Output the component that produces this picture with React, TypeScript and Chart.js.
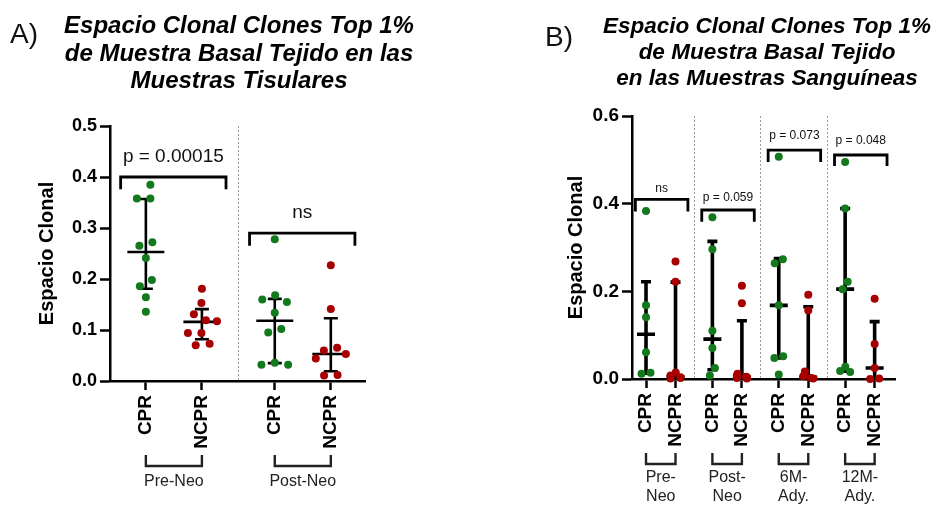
import { useEffect, useRef } from "react";
import { Chart, registerables } from "chart.js";

Chart.register(...registerables);

const FONT = "'Liberation Sans', Arial, Helvetica, sans-serif";
const GREEN = "#127a1c";
const RED = "#a80000";

// ---------------- Panel A (tissue samples) ----------------
const A_CATEGORIES = ["CPR", "NCPR", "CPR", "NCPR"];
const A_GROUPS = [["Pre-Neo"], ["Post-Neo"]];
const A_CPR_PRE = [0.385, 0.358, 0.358, 0.272, 0.265, 0.241, 0.198, 0.186, 0.164, 0.136];
const A_NCPR_PRE = [0.181, 0.153, 0.131, 0.119, 0.117, 0.094, 0.094, 0.073, 0.07];
const A_CPR_POST = [0.278, 0.168, 0.16, 0.155, 0.134, 0.102, 0.095, 0.036, 0.032, 0.032];
const A_NCPR_POST = [0.227, 0.141, 0.065, 0.06, 0.053, 0.044, 0.012, 0.011];
const A_MEDIAN = [0.253, 0.116, 0.118, 0.053];
const A_Q1 = [0.181, 0.082, 0.035, 0.019];
const A_Q3 = [0.357, 0.141, 0.161, 0.123];
const A_P_LABELS = ["p = 0.00015", "ns"];
const A_BRACKET_TOP = [0.4, 0.29];
const A_BRACKET_LEG = [0.376, 0.265];
const A_LABEL_Y = [0.44, 0.329];

// ---------------- Panel B (blood samples) ----------------
const B_CATEGORIES = ["CPR", "NCPR", "CPR", "NCPR", "CPR", "NCPR", "CPR", "NCPR"];
const B_GROUPS = [["Pre-", "Neo"], ["Post-", "Neo"], ["6M-", "Ady."], ["12M-", "Ady."]];
const B_CPR_PRE = [0.383, 0.168, 0.141, 0.061, 0.014, 0.012];
const B_NCPR_PRE = [0.268, 0.222, 0.015, 0.008, 0.004, 0.002, 0.001];
const B_CPR_POST = [0.369, 0.296, 0.11, 0.071, 0.025, 0.008];
const B_NCPR_POST = [0.213, 0.173, 0.012, 0.008, 0.005, 0.004, 0.002, 0.001];
const B_CPR_6M = [0.507, 0.273, 0.264, 0.168, 0.052, 0.048, 0.01];
const B_NCPR_6M = [0.192, 0.156, 0.017, 0.006, 0.002, 0.001];
const B_CPR_12M = [0.495, 0.389, 0.222, 0.205, 0.028, 0.018, 0.016];
const B_NCPR_12M = [0.183, 0.08, 0.025, 0.001, 0.0];
const B_MEDIAN = [0.102, 0.005, 0.091, 0.0045, 0.168, 0.004, 0.205, 0.025];
const B_Q1 = [0.013, 0.002, 0.021, 0.002, 0.048, 0.0015, 0.018, 0.0005];
const B_Q3 = [0.222, 0.221, 0.314, 0.133, 0.275, 0.165, 0.389, 0.131];
const B_P_LABELS = ["ns", "p = 0.059", "p = 0.073", "p = 0.048"];
const B_BRACKET_TOP = [0.41, 0.3855, 0.522, 0.511];
const B_BRACKET_LEG = [0.382, 0.359, 0.495, 0.486];
const B_LABEL_Y = [0.435, 0.414, 0.554, 0.543];

const Y_TITLE = "Espacio Clonal";

type Panel = {
  width: number;
  height: number;
  padLeft: number;
  padTop: number;
  padRight: number;
  yAxisW: number;
  xAxisH: number;
  xMin: number;
  xMax: number;
  yMax: number;
  yStep: number;
  groupPitch: number;
  categories: string[];
  groups: string[][];
  series: number[][];
  median: number[];
  q1: number[];
  q3: number[];
  pLabels: string[];
  bracketTop: number[];
  bracketLeg: number[];
  labelY: number[];
  bracketLeft: number;
  bracketRight: number;
  pFont: number;
  yTickFont: number;
  xTickFont: number;
  pointR: number;
  swarmD: number;
  swarmCap: number;
  barW: number;
  capW: number;
  medW: number;
  bracketW: number;
  groupTextDy: number;
  groupTextLead: number;
  groupFont: number;
  titleLines: string[];
  titleX: number;
  titleBase: number;
  titleLead: number;
  titleSize: number;
  letter: string;
  letterX: number;
  letterBase: number;
};

function positionsOf(p: Panel): number[] {
  return p.categories.map((_, i) => 1 + Math.floor(i / 2) * p.groupPitch + (i % 2));
}

function swarm(values: number[], pxY: number, pxX: number, D: number, cap: number): number[] {
  const order = values.map((_, i) => i).sort((a, b) => values[b] - values[a]);
  const placed: { i: number; x: number; y: number }[] = [];
  for (const i of order) {
    const y = values[i] * pxY;
    const iv: [number, number][] = [];
    for (const q of placed) {
      const dy = Math.abs(q.y - y);
      if (dy < D) {
        const w = Math.sqrt(D * D - dy * dy);
        iv.push([q.x - w, q.x + w]);
      }
    }
    const cands = [0];
    iv.forEach(([a, b]) => cands.push(a, b));
    cands.sort((a, b) => Math.abs(a) - Math.abs(b) || a - b);
    let x = 0;
    for (const c of cands) {
      if (iv.every(([a, b]) => c <= a + 1e-9 || c >= b - 1e-9)) {
        x = c;
        break;
      }
    }
    placed.push({ i, x, y });
  }
  const n = placed.length;
  const parent = placed.map((_, k) => k);
  const find = (k: number): number => (parent[k] === k ? k : (parent[k] = find(parent[k])));
  for (let a = 0; a < n; a++)
    for (let b = a + 1; b < n; b++) {
      const d = Math.hypot(placed[a].x - placed[b].x, placed[a].y - placed[b].y);
      if (d < D + 0.5) parent[find(a)] = find(b);
    }
  const sums: Record<number, { s: number; c: number }> = {};
  placed.forEach((q, k) => {
    const r = find(k);
    sums[r] = sums[r] || { s: 0, c: 0 };
    sums[r].s += q.x;
    sums[r].c += 1;
  });
  const out = new Array(values.length).fill(0);
  placed.forEach((q, k) => {
    const r = find(k);
    let x = q.x - sums[r].s / sums[r].c;
    x = Math.max(-cap, Math.min(cap, x));
    out[q.i] = x / pxX;
  });
  return out;
}

function buildConfig(p: Panel): any {
  const pos = positionsOf(p);
  const plotW = p.width - p.padLeft - p.yAxisW - p.padRight;
  const plotH = p.height - p.padTop - p.xAxisH;
  const pxX = plotW / (p.xMax - p.xMin);
  const pxY = plotH / p.yMax;
  const separators: number[] = [];
  for (let g = 1; g < p.groups.length; g++) separators.push((pos[2 * g - 1] + pos[2 * g]) / 2);

  const datasets = p.series.map((vals, i) => {
    const off = swarm(vals, pxY, pxX, p.swarmD, p.swarmCap);
    const color = i % 2 === 0 ? GREEN : RED;
    return {
      type: "scatter",
      label: p.categories[i],
      data: vals.map((v, k) => ({ x: pos[i] + off[k], y: v })),
      backgroundColor: color,
      borderColor: color,
      pointRadius: p.pointR,
      pointHoverRadius: p.pointR,
      pointBorderWidth: 0,
      showLine: false,
      clip: false,
    };
  });

  const decor = {
    id: "decor",
    beforeDatasetsDraw(chart: any) {
      const { ctx, chartArea } = chart;
      const x = chart.scales.x;
      const y = chart.scales.y;
      ctx.save();
      ctx.strokeStyle = "#9a9a9a";
      ctx.lineWidth = 1;
      ctx.setLineDash([2, 2]);
      separators.forEach((s) => {
        const px = Math.round(x.getPixelForValue(s)) + 0.5;
        ctx.beginPath();
        ctx.moveTo(px, chartArea.top);
        ctx.lineTo(px, chartArea.bottom);
        ctx.stroke();
      });
      ctx.setLineDash([]);
      ctx.strokeStyle = "#000";
      ctx.lineWidth = p.barW;
      ctx.lineCap = "butt";
      pos.forEach((ps, i) => {
        const cx = x.getPixelForValue(ps);
        const hi = y.getPixelForValue(p.q3[i]);
        const lo = y.getPixelForValue(p.q1[i]);
        const md = y.getPixelForValue(p.median[i]);
        ctx.beginPath();
        ctx.moveTo(cx, lo);
        ctx.lineTo(cx, hi);
        ctx.moveTo(cx - p.capW / 2, hi);
        ctx.lineTo(cx + p.capW / 2, hi);
        ctx.moveTo(cx - p.capW / 2, lo);
        ctx.lineTo(cx + p.capW / 2, lo);
        ctx.moveTo(cx - p.medW / 2, md);
        ctx.lineTo(cx + p.medW / 2, md);
        ctx.stroke();
      });
      ctx.restore();
    },
    afterDatasetsDraw(chart: any) {
      const { ctx } = chart;
      const x = chart.scales.x;
      const y = chart.scales.y;
      ctx.save();
      ctx.strokeStyle = "#000";
      ctx.lineWidth = p.bracketW;
      ctx.lineJoin = "miter";
      ctx.fillStyle = "#111";
      ctx.font = `${p.pFont}px ${FONT}`;
      ctx.textAlign = "center";
      ctx.textBaseline = "middle";
      p.pLabels.forEach((lab, g) => {
        const x1 = x.getPixelForValue(pos[2 * g] - p.bracketLeft);
        const x2 = x.getPixelForValue(pos[2 * g + 1] + p.bracketRight);
        const yt = y.getPixelForValue(p.bracketTop[g]);
        const yl = y.getPixelForValue(p.bracketLeg[g]);
        ctx.beginPath();
        ctx.moveTo(x1, yl);
        ctx.lineTo(x1, yt);
        ctx.lineTo(x2, yt);
        ctx.lineTo(x2, yl);
        ctx.stroke();
        ctx.fillText(lab, (x1 + x2) / 2, y.getPixelForValue(p.labelY[g]));
      });
      ctx.restore();
    },
    afterDraw(chart: any) {
      const { ctx, chartArea } = chart;
      const x = chart.scales.x;
      ctx.save();
      ctx.strokeStyle = "#222";
      ctx.lineWidth = 2.4;
      ctx.fillStyle = "#222";
      ctx.font = `${p.groupFont}px ${FONT}`;
      ctx.textAlign = "center";
      ctx.textBaseline = "middle";
      p.groups.forEach((lines, g) => {
        const x1 = x.getPixelForValue(pos[2 * g]);
        const x2 = x.getPixelForValue(pos[2 * g + 1]);
        const top = chartArea.bottom + 74;
        const bot = chartArea.bottom + 85;
        ctx.beginPath();
        ctx.moveTo(x1, top);
        ctx.lineTo(x1, bot);
        ctx.lineTo(x2, bot);
        ctx.lineTo(x2, top);
        ctx.stroke();
        lines.forEach((t, k) => {
          ctx.fillText(t, (x1 + x2) / 2, chartArea.bottom + p.groupTextDy + k * p.groupTextLead);
        });
      });
      ctx.fillStyle = "#000";
      ctx.textBaseline = "alphabetic";
      ctx.font = `italic bold ${p.titleSize}px ${FONT}`;
      p.titleLines.forEach((t, k) => ctx.fillText(t, p.titleX, p.titleBase + k * p.titleLead));
      ctx.textAlign = "left";
      ctx.fillStyle = "#111";
      ctx.font = `28px ${FONT}`;
      ctx.fillText(p.letter, p.letterX, p.letterBase);
      ctx.restore();
    },
  };

  return {
    type: "scatter",
    data: { datasets },
    options: {
      animation: false,
      responsive: true,
      maintainAspectRatio: false,
      devicePixelRatio: 1,
      layout: { padding: { left: p.padLeft, top: p.padTop, right: p.padRight, bottom: 0 } },
      plugins: { legend: { display: false }, tooltip: { enabled: false }, title: { display: false } },
      events: [],
      scales: {
        x: {
          type: "linear",
          min: p.xMin,
          max: p.xMax,
          bounds: "data",
          afterBuildTicks: (scale: any) => {
            scale.ticks = pos.map((v) => ({ value: v }));
          },
          afterFit: (scale: any) => {
            scale.height = p.xAxisH;
          },
          ticks: {
            autoSkip: false,
            minRotation: 90,
            maxRotation: 90,
            padding: 5,
            color: "#000",
            font: { family: FONT, size: p.xTickFont, weight: "bold" },
            callback: (_v: any, i: number) => p.categories[i],
          },
          grid: { drawOnChartArea: false, drawTicks: true, tickLength: 9, tickWidth: 2.5, tickColor: "#000" },
          border: { display: true, color: "#000", width: 2.5 },
        },
        y: {
          type: "linear",
          min: 0,
          max: p.yMax,
          afterFit: (scale: any) => {
            scale.width = p.yAxisW;
          },
          ticks: {
            stepSize: p.yStep,
            padding: 3,
            color: "#000",
            font: { family: FONT, size: p.yTickFont, weight: "bold" },
            callback: (v: any) => Number(v).toFixed(1),
          },
          title: {
            display: true,
            text: Y_TITLE,
            color: "#000",
            font: { family: FONT, size: 20, weight: "bold" },
            padding: { top: 4, bottom: 0 },
          },
          grid: { drawOnChartArea: false, drawTicks: true, tickLength: 10, tickWidth: 2.5, tickColor: "#000" },
          border: { display: true, color: "#000", width: 2.5 },
        },
      },
    },
    plugins: [decor],
  };
}

const panelA: Panel = {
  width: 468,
  height: 505,
  padLeft: 31,
  padTop: 126,
  padRight: 103,
  yAxisW: 79,
  xAxisH: 124,
  xMin: 0.36,
  xMax: 4.91,
  yMax: 0.5,
  yStep: 0.1,
  groupPitch: 2.3,
  categories: A_CATEGORIES,
  groups: A_GROUPS,
  series: [A_CPR_PRE, A_NCPR_PRE, A_CPR_POST, A_NCPR_POST],
  median: A_MEDIAN,
  q1: A_Q1,
  q3: A_Q3,
  pLabels: A_P_LABELS,
  bracketTop: A_BRACKET_TOP,
  bracketLeg: A_BRACKET_LEG,
  labelY: A_LABEL_Y,
  bracketLeft: 0.45,
  bracketRight: 0.43,
  pFont: 19,
  yTickFont: 18,
  xTickFont: 19,
  pointR: 4,
  swarmD: 13.5,
  swarmCap: 15,
  barW: 2.6,
  capW: 14,
  medW: 37,
  bracketW: 2.8,
  groupTextDy: 101,
  groupTextLead: 19,
  groupFont: 16,
  titleLines: ["Espacio Clonal Clones Top 1%", "de Muestra Basal Tejido en las", "Muestras Tisulares"],
  titleX: 239,
  titleBase: 33,
  titleLead: 27.5,
  titleSize: 24,
  letter: "A)",
  letterX: 10,
  letterBase: 43,
};

const panelB: Panel = {
  width: 468,
  height: 505,
  padLeft: 92,
  padTop: 116,
  padRight: 41,
  yAxisW: 72,
  xAxisH: 126,
  xMin: 0.525,
  xMax: 9.44,
  yMax: 0.6,
  yStep: 0.2,
  groupPitch: 2.25,
  categories: B_CATEGORIES,
  groups: B_GROUPS,
  series: [B_CPR_PRE, B_NCPR_PRE, B_CPR_POST, B_NCPR_POST, B_CPR_6M, B_NCPR_6M, B_CPR_12M, B_NCPR_12M],
  median: B_MEDIAN,
  q1: B_Q1,
  q3: B_Q3,
  pLabels: B_P_LABELS,
  bracketTop: B_BRACKET_TOP,
  bracketLeg: B_BRACKET_LEG,
  labelY: B_LABEL_Y,
  bracketLeft: 0.36,
  bracketRight: 0.42,
  pFont: 12,
  yTickFont: 19,
  xTickFont: 19,
  pointR: 4,
  swarmD: 9,
  swarmCap: 5,
  barW: 3.6,
  capW: 10,
  medW: 18,
  bracketW: 2.8,
  groupTextDy: 99,
  groupTextLead: 19,
  groupFont: 16,
  titleLines: ["Espacio Clonal Clones Top 1%", "de Muestra Basal Tejido", "en las Muestras Sanguíneas"],
  titleX: 299,
  titleBase: 33,
  titleLead: 26,
  titleSize: 22.5,
  letter: "B)",
  letterX: 77,
  letterBase: 46,
};

export default function App() {
  const refA = useRef<HTMLCanvasElement>(null);
  const refB = useRef<HTMLCanvasElement>(null);
  useEffect(() => {
    Chart.defaults.font.family = FONT;
    const a = new Chart(refA.current as HTMLCanvasElement, buildConfig(panelA));
    const b = new Chart(refB.current as HTMLCanvasElement, buildConfig(panelB));
    return () => {
      a.destroy();
      b.destroy();
    };
  }, []);
  return (
    <div style={{ position: "absolute", left: 0, top: 0, width: 936, height: 505, background: "#fff" }}>
      <div style={{ position: "absolute", left: 0, top: 0, width: 468, height: 505 }}>
        <canvas ref={refA} />
      </div>
      <div style={{ position: "absolute", left: 468, top: 0, width: 468, height: 505 }}>
        <canvas ref={refB} />
      </div>
    </div>
  );
}
